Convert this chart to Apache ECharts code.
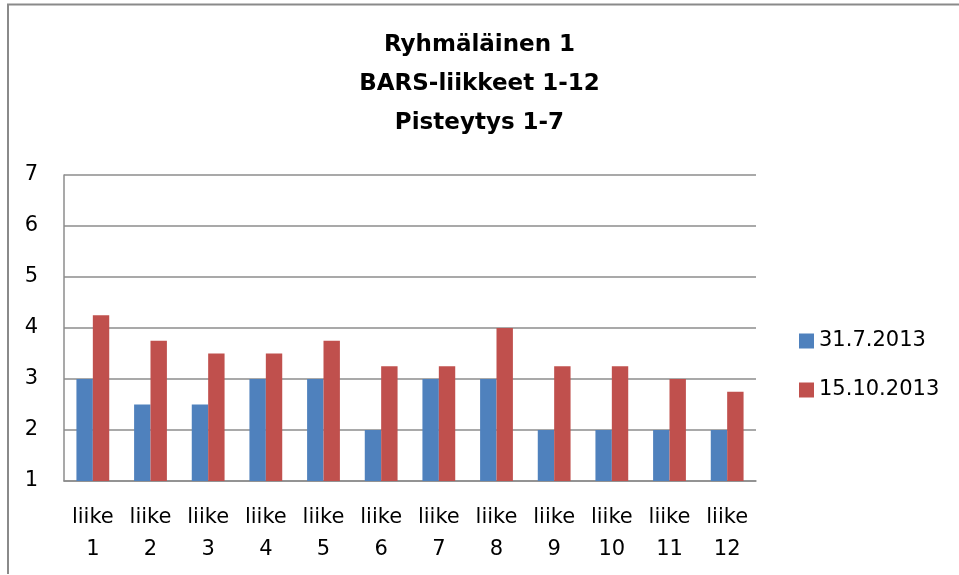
<!DOCTYPE html>
<html>
<head>
<meta charset="utf-8">
<script src="https://cdn.jsdelivr.net/npm/echarts@6/dist/echarts.min.js"></script>
<style>
html,body{margin:0;padding:0;background:#fff;}
#chart{width:959px;height:575px;}
</style>
</head>
<body>
<div id="chart"></div>
<script>
const categories = ['liike\n1','liike\n2','liike\n3','liike\n4','liike\n5','liike\n6','liike\n7','liike\n8','liike\n9','liike\n10','liike\n11','liike\n12'];
const seriesNames = ['31.7.2013','15.10.2013'];
const values1 = [3, 2.5, 2.5, 3, 3, 2, 3, 3, 2, 2, 2, 2];
const values2 = [4.25, 3.75, 3.5, 3.5, 3.75, 3.25, 3.25, 4, 3.25, 3.25, 3, 2.75];
const titleText = 'Ryhmäläinen 1\nBARS-liikkeet 1-12\nPisteytys 1-7';

const FONT = 'DejaVu Sans';
const chart = echarts.init(document.getElementById('chart'), null, {renderer:'canvas'});
chart.setOption({
  animation: false,
  backgroundColor: '#fff',
  title: {
    text: titleText,
    left: 'center',
    top: 26,
    padding: [0, 0, 0, 18],
    textStyle: {fontFamily: FONT, fontSize: 23, fontWeight: 'bold', color: '#000', lineHeight: 39}
  },
  graphic: [{
    type: 'polyline', silent: true,
    shape: {points: [[8, 574], [8, 4.5], [959, 4.5]]},
    style: {fill: 'none', stroke: '#8a8a8a', lineWidth: 2}
  }],
  legend: {
    orient: 'vertical',
    left: 799, top: 330,
    padding: 0,
    itemWidth: 15, itemHeight: 15,
    itemGap: 27,
    icon: 'rect',
    textStyle: {fontFamily: FONT, fontSize: 21, color: '#000', lineHeight: 22},
    data: seriesNames
  },
  grid: {left: 64, top: 175, width: 692, height: 306, containLabel: false},
  xAxis: {
    type: 'category',
    data: categories,
    axisLine: {lineStyle: {color: '#8c8c8c', width: 1.5}},
    axisTick: {show: false},
    axisLabel: {fontFamily: FONT, fontSize: 21, color: '#000', lineHeight: 32, margin: 21, interval: 0}
  },
  yAxis: {
    type: 'value',
    min: 1, max: 7, interval: 1,
    axisLine: {show: true, lineStyle: {color: '#8c8c8c', width: 1.5}},
    axisTick: {show: false},
    splitLine: {lineStyle: {color: '#8c8c8c', width: 1.5}},
    axisLabel: {fontFamily: FONT, fontSize: 21, color: '#000', margin: 26, padding: [8, 0, 0, 0]}
  },
  series: [
    {name: seriesNames[0], type: 'bar', data: values1, barWidth: 16.4, barGap: '0%',
     itemStyle: {color: '#4F81BD'}},
    {name: seriesNames[1], type: 'bar', data: values2, barWidth: 16.4, barGap: '0%',
     itemStyle: {color: '#C0504D'}}
  ]
});
</script>
</body>
</html>
